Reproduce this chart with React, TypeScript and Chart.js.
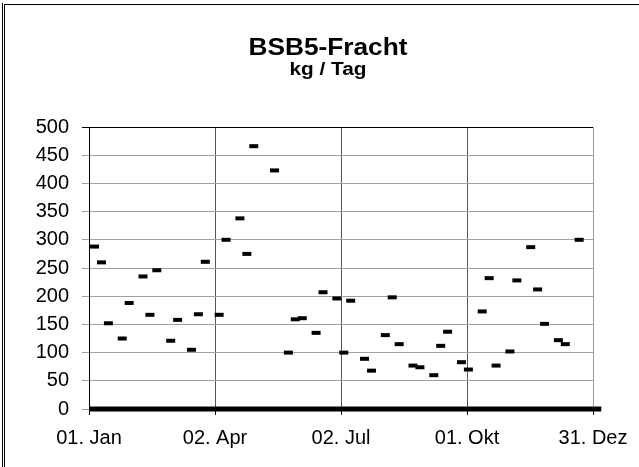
import React, { useEffect, useRef } from "react";
import { Chart, registerables } from "chart.js";

Chart.register(...registerables);

// Day of year (0 = 01. Jan) of each sample
const sampleDays = [
  4, 9, 14, 24, 29, 39, 44, 49, 59, 64, 74, 79, 84, 94, 99, 109, 114, 119, 134,
  144, 149, 154, 164, 169, 179, 184, 189, 199, 204, 214, 219, 224, 234, 239,
  249, 254, 259, 269, 274, 284, 289, 294, 304, 309, 319, 324, 329, 339, 344, 354,
];
// BSB5 load in kg / day
const loadValues = [
  288, 260, 152, 125, 188, 235, 167, 246, 121, 158, 105, 168, 261, 167, 300,
  338, 275, 466, 423, 100, 159, 161, 135, 207, 196, 100, 192, 89, 68, 131, 198,
  115, 77, 74, 60, 112, 137, 83, 70, 173, 232, 77, 102, 228, 287, 212, 151, 122,
  115, 300,
];
// Days without measurement (recorded as 0) span the whole year
const zeroSpanDays = [0, 370];
const zeroSpanValues = [0, 0];

const tickDays = [0, 91, 182, 273, 364];
const tickLabels = ["01. Jan", "02. Apr", "02. Jul", "01. Okt", "31. Dez"];

const titleText = "BSB5-Fracht";
const subtitleText = "kg / Tag";

const FONT = "'Liberation Sans', Arial, sans-serif";

function drawStretched(
  ctx: CanvasRenderingContext2D,
  text: string,
  font: string,
  cx: number,
  baseline: number,
  targetWidth: number
) {
  ctx.save();
  ctx.font = font;
  ctx.textAlign = "center";
  ctx.textBaseline = "alphabetic";
  const w = ctx.measureText(text).width || targetWidth;
  ctx.translate(cx, baseline);
  ctx.scale(targetWidth / w, 1);
  ctx.fillText(text, 0, 0);
  ctx.restore();
}

const titlePlugin = {
  id: "excelTitle",
  afterDraw(chart: any) {
    const ctx = chart.ctx as CanvasRenderingContext2D;
    ctx.save();
    ctx.fillStyle = "#000";
    drawStretched(ctx, titleText, `bold 24px ${FONT}`, 328, 54.5, 159);
    drawStretched(ctx, subtitleText, `bold 18px ${FONT}`, 328, 75, 77);
    ctx.restore();
  },
};

export default function App() {
  const canvasRef = useRef<HTMLCanvasElement | null>(null);

  useEffect(() => {
    const canvas = canvasRef.current;
    if (!canvas) return;
    Chart.defaults.font.family = FONT;
    Chart.defaults.color = "#000";

    const chart = new Chart(canvas, {
      type: "scatter",
      data: {
        datasets: [
          {
            type: "line",
            data: zeroSpanDays.map((d, i) => ({ x: d, y: zeroSpanValues[i] })),
            borderColor: "#000",
            borderWidth: 5,
            pointRadius: 0,
            clip: false as any,
            order: 2,
          } as any,
          {
            data: sampleDays.map((d, i) => ({ x: d, y: loadValues[i] })),
            pointStyle: "line",
            radius: 4.5,
            borderWidth: 4,
            borderColor: "#000",
            backgroundColor: "#000",
            order: 1,
          } as any,
        ],
      },
      options: {
        animation: false,
        responsive: false,
        devicePixelRatio: 1,
        layout: { padding: { left: 0, right: 46, top: 127, bottom: 0 } },
        plugins: {
          legend: { display: false },
          tooltip: { enabled: false },
          title: { display: false },
        },
        scales: {
          x: {
            type: "linear",
            min: 0,
            max: 364,
            afterBuildTicks: (scale: any) => {
              scale.ticks = tickDays.map((v) => ({ value: v }));
            },
            afterFit: (scale: any) => {
              scale.height = 58;
            },
            ticks: {
              autoSkip: false,
              maxRotation: 0,
              padding: 11,
              color: "#000",
              font: { size: 20 },
              callback: (v: any) => {
                const i = tickDays.indexOf(Number(v));
                return i >= 0 ? tickLabels[i] : "";
              },
            },
            grid: {
              color: (ctx: any) =>
                ctx.index === tickDays.length - 1 ? "#9a9a9a" : "#555555",
              tickColor: "#000",
              tickLength: 6,
            },
            border: { color: "#000", width: 1 },
          },
          y: {
            min: 0,
            max: 500,
            afterFit: (scale: any) => {
              scale.width = 89;
            },
            ticks: {
              stepSize: 50,
              padding: 13,
              color: "#000",
              font: { size: 20 },
            },
            grid: {
              color: (ctx: any) =>
                ctx.tick && ctx.tick.value === 500 ? "#000" : "#a0a0a0",
              tickLength: 7,
            },
            border: { color: "#000", width: 1 },
          },
        },
      },
      plugins: [titlePlugin],
    });
    return () => chart.destroy();
  }, []);

  return (
    <div
      style={{
        position: "fixed",
        left: 0,
        top: 0,
        width: 639,
        height: 467,
        background: "#fff",
        overflow: "hidden",
      }}
    >
      <canvas
        ref={canvasRef}
        width={639}
        height={467}
        style={{ position: "absolute", left: 0, top: 0, width: 639, height: 467 }}
      />
      <div
        style={{
          position: "absolute",
          left: 2,
          top: 3,
          width: 1,
          height: 464,
          background: "#000",
        }}
      />
      <div
        style={{
          position: "absolute",
          left: 4,
          top: 4,
          width: 1,
          height: 463,
          background: "#000",
        }}
      />
      <div
        style={{
          position: "absolute",
          left: 4,
          top: 4,
          width: 635,
          height: 1,
          background: "#000",
        }}
      />
    </div>
  );
}
